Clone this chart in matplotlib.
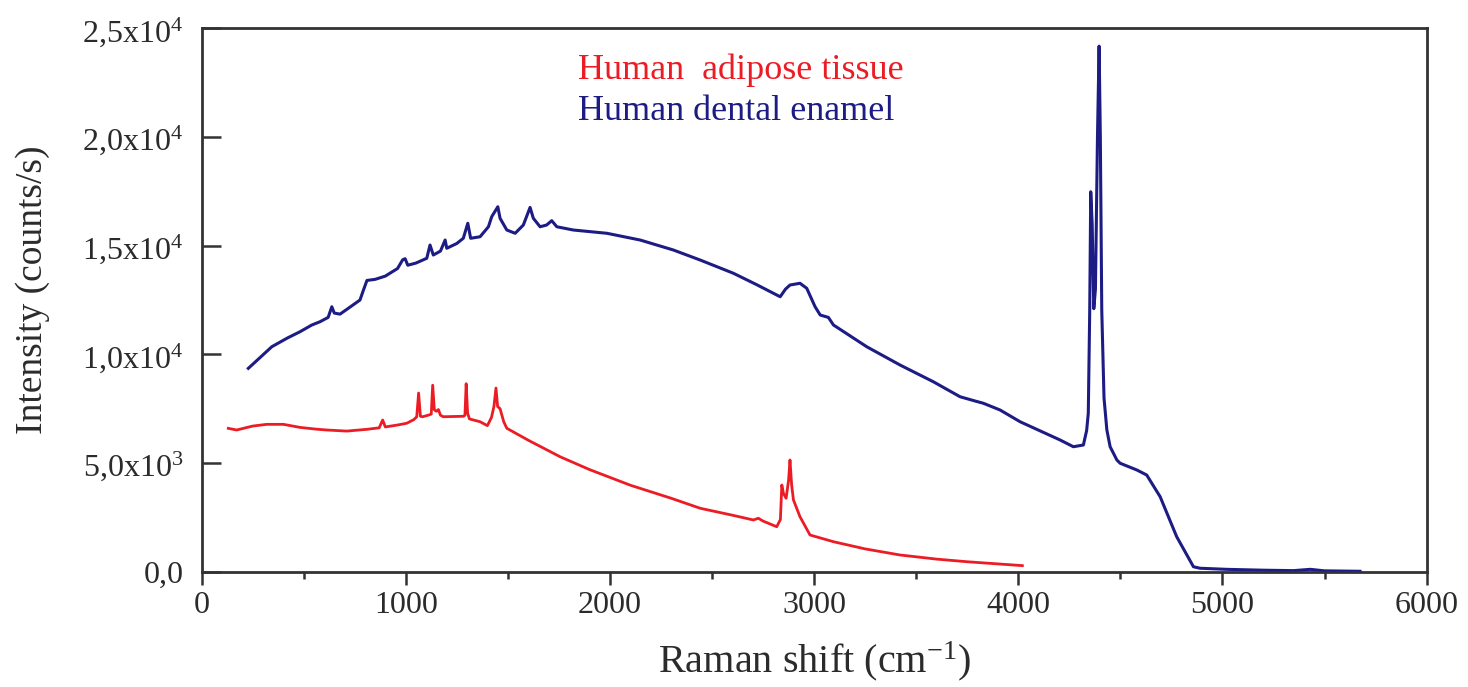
import matplotlib
matplotlib.use('Agg')
import matplotlib.pyplot as plt
from matplotlib.ticker import MultipleLocator

plt.rcParams['font.family'] = ['Liberation Serif', 'DejaVu Serif']
plt.rcParams['mathtext.fontset'] = 'custom'
plt.rcParams['mathtext.rm'] = 'Liberation Serif'
plt.rcParams['mathtext.default'] = 'regular'

# Human adipose tissue (red)
adipose_shift = [131, 172, 250, 319, 401, 482, 560, 613, 711, 809, 870, 887, 900,
                 960, 1005, 1040, 1054, 1063, 1072, 1083, 1110, 1125, 1132, 1140,
                 1150, 1160, 1170, 1184, 1230, 1282, 1290, 1296, 1303, 1312, 1364,
                 1400, 1420, 1432, 1442, 1450, 1462, 1480, 1495, 1600, 1756, 1900,
                 2100, 2300, 2442, 2600, 2703, 2727, 2750, 2817, 2835, 2842, 2850,
                 2863, 2875, 2882, 2890, 2899, 2931, 2980, 3095, 3250, 3421, 3600,
                 3748, 3900, 4020]
adipose_int = [6596, 6520, 6700, 6780, 6780, 6640, 6560, 6520, 6470, 6550, 6620, 6980, 6660,
               6750, 6830, 7000, 7130, 8220, 7150, 7130, 7200, 7250, 8580, 7450,
               7380, 7460, 7200, 7130, 7140, 7150, 7200, 8650, 7300, 7030, 6900,
               6720, 7100, 7600, 8450, 7600, 7500, 6900, 6600, 6050, 5290, 4700,
               3980, 3380, 2920, 2600, 2380, 2460, 2330, 2070, 2400, 3990, 3600,
               3380, 4200, 5140, 4000, 3300, 2530, 1690, 1380, 1050, 770, 580,
               460, 360, 280]

# Human dental enamel (blue)
enamel_shift = [229, 344, 420, 482, 540, 580, 620, 638, 650, 678, 719, 776, 793, 810,
                850, 900, 960, 985, 997, 1010, 1050, 1103, 1119, 1135, 1170, 1193,
                1201, 1250, 1282, 1304, 1318, 1364, 1405, 1421, 1451, 1462, 1495,
                1536, 1576, 1609, 1625, 1658, 1690, 1715, 1740, 1821, 1985, 2148,
                2311, 2442, 2605, 2720, 2834, 2860, 2882, 2931, 2964, 3005, 3030,
                3070, 3095, 3258, 3421, 3584, 3715, 3790, 3829, 3911, 4009, 4205,
                4270, 4319, 4335, 4343, 4350, 4355, 4362, 4370, 4378, 4388, 4396,
                4402, 4409, 4420, 4434, 4450, 4483, 4499, 4581, 4629, 4695, 4776,
                4858, 4890, 5021, 5200, 5348, 5430, 5500, 5674]
enamel_int = [9356, 10350, 10750, 11040, 11350, 11500, 11700, 12190, 11900, 11850, 12120, 12500, 12960, 13400,
              13450, 13600, 13950, 14350, 14400, 14100, 14200, 14420, 15030, 14570, 14750, 15260,
              14880, 15100, 15340, 16030, 15340, 15410, 15870, 16330, 16790, 16260, 15720,
              15570, 15950, 16760, 16260, 15870, 15950, 16150, 15870, 15720, 15570, 15260,
              14800, 14340, 13730, 13200, 12650, 13000, 13190, 13270, 13040, 12190, 11810,
              11700, 11350, 10350, 9510, 8740, 8050, 7850, 7750, 7440, 6900, 6060,
              5750, 5830, 6500, 7290, 12000, 17480, 16000, 12100, 13000, 20000, 24180,
              20000, 12040, 8000, 6520, 5750, 5140, 4990, 4680, 4450, 3450, 1610,
              230, 160, 110, 70, 50, 110, 40, 20]

series_names = ['Human  adipose tissue', 'Human dental enamel']
y_ticks = [0, 5000, 10000, 15000, 20000, 25000]
y_tick_labels = ['0,0', '5,0x10$^{3}$', '1,0x10$^{4}$', '1,5x10$^{4}$',
                 '2,0x10$^{4}$', '2,5x10$^{4}$']
x_ticks = [0, 1000, 2000, 3000, 4000, 5000, 6000]

red = '#ec1c24'
navy = '#1c1c84'
dark = '#333333'

fig = plt.figure(figsize=(14.68, 6.87), dpi=100)
ax = fig.add_axes([0.1373, 0.1678, 0.8345, 0.7910])

ax.plot(adipose_shift, adipose_int, color=red, lw=2.0)
ax.plot(enamel_shift, enamel_int, color=navy, lw=2.2)

ax.set_xlim(0, 6000)
ax.set_ylim(0, 25000)
ax.set_xticks(x_ticks)
ax.xaxis.set_minor_locator(MultipleLocator(500))
ax.set_yticks(y_ticks)
ax.set_yticklabels(y_tick_labels)

for sp in ax.spines.values():
    sp.set_linewidth(2.0)
    sp.set_color(dark)

ax.tick_params(axis='x', which='major', direction='out', length=9, width=1.8,
               color=dark, labelsize=23, labelcolor='#2b2b2b', pad=5)
ax.tick_params(axis='x', which='minor', direction='out', length=5, width=1.8, color=dark)
ax.tick_params(axis='y', which='major', direction='in', length=14, width=1.8,
               color=dark, labelsize=23, labelcolor='#2b2b2b', pad=13)

ax.set_xlabel('Raman shift (cm$^{-1}$)', fontsize=29, color='#2b2b2b')
ax.xaxis.set_label_coords(0.5, -0.125)
ax.set_ylabel('Intensity (counts/s)', fontsize=27, color='#2b2b2b')
ax.yaxis.set_label_coords(-0.124, 0.518)

ax.text(0.307, 0.922, series_names[0], transform=ax.transAxes, color=red,
        fontsize=26, ha='left', va='center')
ax.text(0.307, 0.847, series_names[1], transform=ax.transAxes, color=navy,
        fontsize=26, ha='left', va='center')

fig.savefig('out.png', dpi=100, facecolor='white')
